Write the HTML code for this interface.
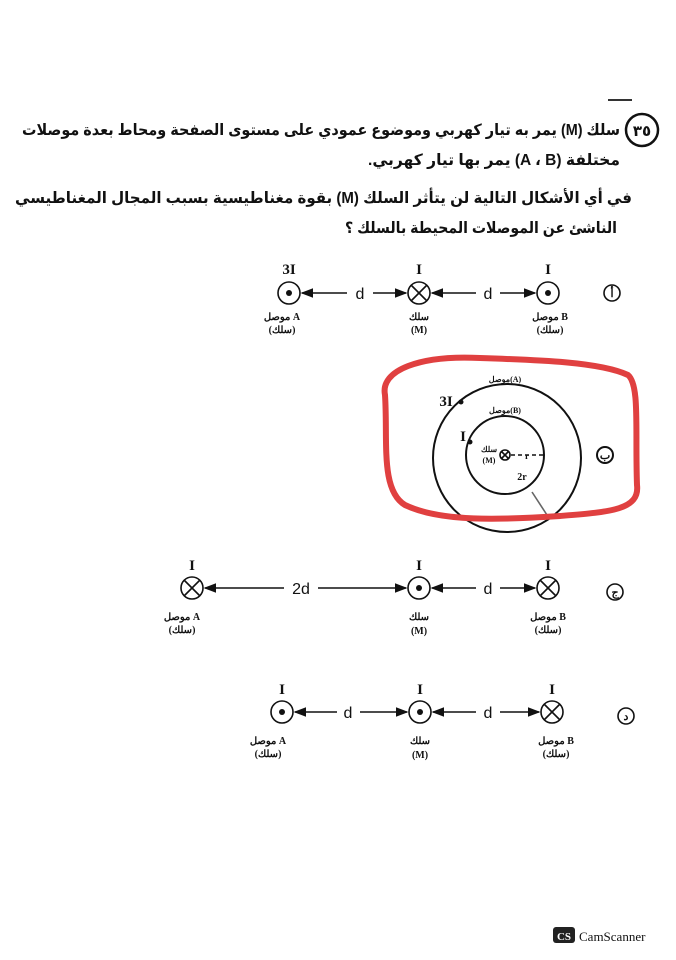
<!DOCTYPE html>
<html><head><meta charset="utf-8"><style>
body{margin:0;background:#fff}
svg{display:block}
text{font-family:"Liberation Serif","Noto Sans CJK SC",serif;fill:#111}
.ar{font-family:"Liberation Sans","DejaVu Sans",sans-serif;font-weight:bold}
</style></head><body>
<svg width="676" height="960" viewBox="0 0 676 960" xmlns="http://www.w3.org/2000/svg">
<defs><marker id="a" markerWidth="8" markerHeight="8" refX="7" refY="4" orient="auto"><path d="M0,1 L8,4 L0,7z" fill="#111"/></marker></defs>
<line x1="608" y1="100" x2="632" y2="100" stroke="#333" stroke-width="2"/>
<circle cx="642" cy="130" r="16" fill="none" stroke="#111" stroke-width="2.5"/>
<text x="642" y="136" text-anchor="middle" class="ar" font-size="15">٣٥</text>
<g class="ar" font-size="15.5">
<text x="620" y="135" class="ar" direction="rtl" text-anchor="start" textLength="598" lengthAdjust="spacingAndGlyphs">سلك (M) يمر به تيار كهربي وموضوع عمودي على مستوى الصفحة ومحاط بعدة موصلات</text>
<text x="620" y="165" class="ar" direction="rtl" text-anchor="start" textLength="252" lengthAdjust="spacingAndGlyphs">مختلفة (A ، B) يمر بها تيار كهربي.</text>
<text x="632" y="203" class="ar" direction="rtl" text-anchor="start" textLength="617" lengthAdjust="spacingAndGlyphs">في أي الأشكال التالية لن يتأثر السلك (M) بقوة مغناطيسية بسبب المجال المغناطيسي</text>
<text x="617" y="233" class="ar" direction="rtl" text-anchor="start" textLength="272" lengthAdjust="spacingAndGlyphs">الناشئ عن الموصلات المحيطة بالسلك ؟</text>
</g>
<g stroke="#111" stroke-width="1.6" fill="none">
<circle cx="289" cy="293" r="11"/><circle cx="419" cy="293" r="11"/><circle cx="548" cy="293" r="11"/>
<line x1="411" y1="285" x2="427" y2="301"/><line x1="427" y1="285" x2="411" y2="301"/>
<line x1="347" y1="293" x2="302" y2="293" marker-end="url(#a)"/><line x1="373" y1="293" x2="406" y2="293" marker-end="url(#a)"/>
<line x1="476" y1="293" x2="432" y2="293" marker-end="url(#a)"/><line x1="500" y1="293" x2="535" y2="293" marker-end="url(#a)"/>
<circle cx="612" cy="293" r="8"/>
<circle cx="192" cy="588" r="11"/><circle cx="419" cy="588" r="11"/><circle cx="548" cy="588" r="11"/>
<line x1="184" y1="580" x2="200" y2="596"/><line x1="200" y1="580" x2="184" y2="596"/>
<line x1="540" y1="580" x2="556" y2="596"/><line x1="556" y1="580" x2="540" y2="596"/>
<line x1="284" y1="588" x2="205" y2="588" marker-end="url(#a)"/><line x1="318" y1="588" x2="406" y2="588" marker-end="url(#a)"/>
<line x1="476" y1="588" x2="432" y2="588" marker-end="url(#a)"/><line x1="500" y1="588" x2="535" y2="588" marker-end="url(#a)"/>
<circle cx="615" cy="592" r="8"/>
<circle cx="282" cy="712" r="11"/><circle cx="420" cy="712" r="11"/><circle cx="552" cy="712" r="11"/>
<line x1="544" y1="704" x2="560" y2="720"/><line x1="560" y1="704" x2="544" y2="720"/>
<line x1="337" y1="712" x2="295" y2="712" marker-end="url(#a)"/><line x1="360" y1="712" x2="407" y2="712" marker-end="url(#a)"/>
<line x1="476" y1="712" x2="433" y2="712" marker-end="url(#a)"/><line x1="500" y1="712" x2="539" y2="712" marker-end="url(#a)"/>
<circle cx="626" cy="716" r="8"/>
<circle cx="507" cy="458" r="74" stroke-width="2"/>
<circle cx="505" cy="455" r="39" stroke-width="2"/>
<circle cx="505" cy="455" r="5"/>
<line x1="501" y1="451" x2="509" y2="459"/><line x1="509" y1="451" x2="501" y2="459"/>
<line x1="511" y1="455" x2="543" y2="455" stroke-dasharray="4 3"/>
<line x1="532" y1="492" x2="547" y2="515" stroke="#666"/>
<circle cx="605" cy="455" r="8" stroke-width="2"/>
<path d="M385,395 C380,370 420,355 480,358 C540,360 600,362 628,375 C640,385 635,430 637,485 C640,510 610,512 560,516 C500,520 440,522 405,505 C380,490 388,440 385,395 Z" stroke="#e04040" stroke-width="6"/>
</g>
<g fill="#111">
<circle cx="289" cy="293" r="3"/><circle cx="548" cy="293" r="3"/><circle cx="419" cy="588" r="3"/>
<circle cx="282" cy="712" r="3"/><circle cx="420" cy="712" r="3"/>
<circle cx="461" cy="402" r="2.5"/><circle cx="470" cy="442" r="2.5"/>
</g>
<g class="ar" font-size="11" text-anchor="middle">
<text x="612" y="297">أ</text><text x="605" y="459">ب</text><text x="615" y="596">ج</text><text x="626" y="720">د</text>
</g>
<g font-size="15" font-weight="bold" text-anchor="middle">
<text x="289" y="274">3I</text><text x="419" y="274">I</text><text x="548" y="274">I</text>
<text x="192" y="570">I</text><text x="419" y="570">I</text><text x="548" y="570">I</text>
<text x="282" y="694">I</text><text x="420" y="694">I</text><text x="552" y="694">I</text>
<text x="446" y="406">3I</text><text x="463" y="441">I</text>
</g>
<g font-size="16" text-anchor="middle">
<text x="360" y="299" style="font-family:'Liberation Sans'">d</text>
<text x="488" y="299" style="font-family:'Liberation Sans'">d</text>
<text x="301" y="594" style="font-family:'Liberation Sans'">2d</text>
<text x="488" y="594" style="font-family:'Liberation Sans'">d</text>
<text x="348" y="718" style="font-family:'Liberation Sans'">d</text>
<text x="488" y="718" style="font-family:'Liberation Sans'">d</text>
</g>
<g class="ar" font-size="10" text-anchor="middle">
<text x="282" y="320">موصل A</text><text x="282" y="333">(سلك)</text>
<text x="419" y="320">سلك</text><text x="419" y="333">(M)</text>
<text x="550" y="320">موصل B</text><text x="550" y="333">(سلك)</text>
<text x="182" y="620">موصل A</text><text x="182" y="633">(سلك)</text>
<text x="419" y="620">سلك</text><text x="419" y="634">(M)</text>
<text x="548" y="620">موصل B</text><text x="548" y="633">(سلك)</text>
<text x="268" y="744">موصل A</text><text x="268" y="757">(سلك)</text>
<text x="420" y="744">سلك</text><text x="420" y="758">(M)</text>
<text x="556" y="744">موصل B</text><text x="556" y="757">(سلك)</text>
<text x="505" y="382" font-size="8">موصل(A)</text>
<text x="505" y="413" font-size="8">موصل(B)</text>
<text x="489" y="452" font-size="8">سلك</text><text x="489" y="463" font-size="8">(M)</text>
<text x="522" y="480" font-size="10" style="font-family:'Liberation Serif'">2r</text>
<text x="527" y="459" font-size="9" style="font-family:'Liberation Serif'">r</text>
</g>
<rect x="553" y="927" width="22" height="16" rx="3" fill="#222"/>
<text x="564" y="940" font-family="Liberation Sans" font-size="11" font-weight="bold" text-anchor="middle" style="fill:#fff">CS</text>
<text x="579" y="941" font-size="13">CamScanner</text>
</svg>
</body></html>
